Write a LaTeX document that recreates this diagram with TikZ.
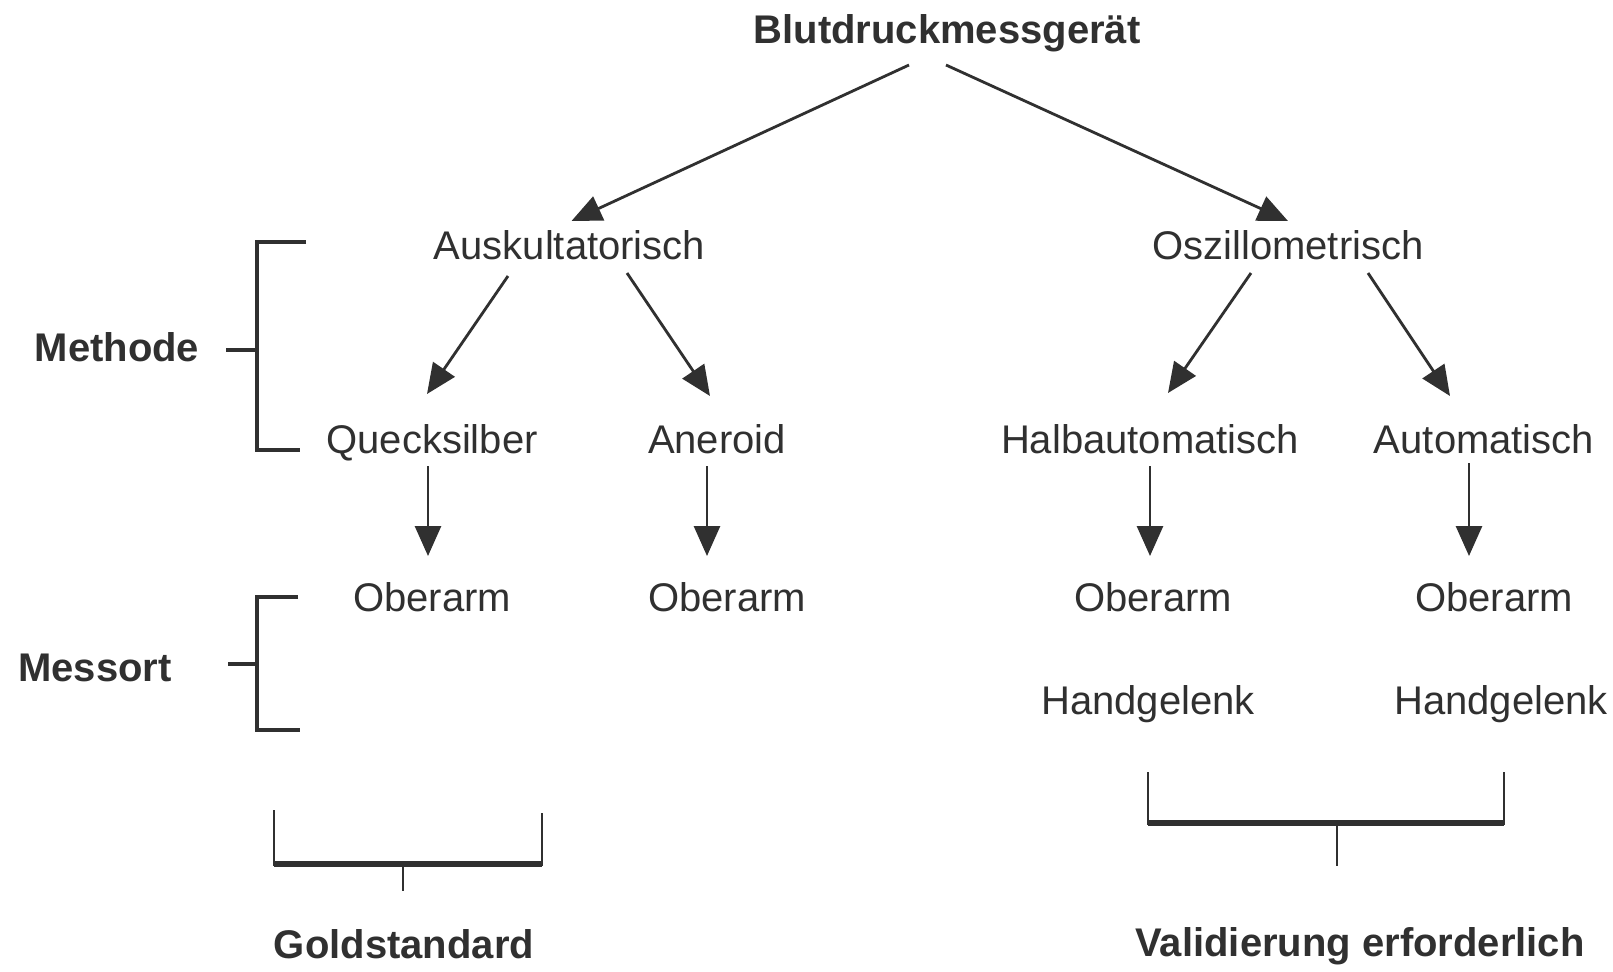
\documentclass[tikz,border=0pt]{standalone}
\usepackage{fontspec}
\setmainfont{Liberation Sans}
\usetikzlibrary{arrows.meta,calc}
\definecolor{ink}{HTML}{303030}
\tikzset{
  lbl/.style={anchor=base, inner sep=0pt, text=ink, font=\fontsize{20}{24}\selectfont},
  blbl/.style={lbl, font=\fontsize{20}{24}\selectfont\bfseries},
  arr/.style={draw=ink, line width=1.4pt, -{Triangle[length=15pt,width=13pt]}},
  brk/.style={draw=ink, line width=2.2pt},
  thinbrk/.style={draw=ink, line width=1.3pt},
  thickbrk/.style={draw=ink, line width=2.8pt}
}
\begin{document}
\begin{tikzpicture}[x=0.5pt,y=-0.5pt]
\useasboundingbox[fill=white] (0,0) rectangle (1613,971);
% nodes
\node[blbl] (title) at (947,43) {Blutdruckmessgerät};
\node[lbl] (ausk) at (569.5,259) {Auskultatorisch};
\node[lbl] (osz) at (1288,259) {Oszillometrisch};
\node[lbl] (queck) at (432,453) {Quecksilber};
\node[lbl] (aner) at (717,453) {Aneroid};
\node[lbl] (halb) at (1150,453) {Halbautomatisch};
\node[lbl] (auto) at (1484,453) {Automatisch};
\node[lbl] (ob1) at (432,611) {Oberarm};
\node[lbl] (ob2) at (727,611) {Oberarm};
\node[lbl] (ob3) at (1153,611) {Oberarm};
\node[lbl] (ob4) at (1494,611) {Oberarm};
\node[lbl] (hg1) at (1148,714) {Handgelenk};
\node[lbl] (hg2) at (1501,714) {Handgelenk};
\node[blbl] (meth) at (117,361) {Methode};
\node[blbl] (mess) at (95,681) {Messort};
\node[blbl] (gold) at (404,958) {Goldstandard};
\node[blbl] (vali) at (1360,956) {Validierung erforderlich};
% arrows
\draw[arr] ($(title.base)+(-38,22)$) -- ($(ausk.base)+(2,-38)$);
\draw[arr] ($(title.base)+(-1,22)$) -- ($(osz.base)+(0,-38)$);
\draw[arr] ($(ausk.base)+(-61.5,17)$) -- ($(queck.base)+(-5,-59)$);
\draw[arr] ($(ausk.base)+(57.5,14)$) -- ($(aner.base)+(-7,-57)$);
\draw[arr] ($(osz.base)+(-37,14)$) -- ($(halb.base)+(18,-60)$);
\draw[arr] ($(osz.base)+(80,14)$) -- ($(auto.base)+(-34,-57)$);
\draw[arr] ($(queck.base)+(-4,13)$) -- ($(ob1.base)+(-4,-55)$);
\draw[arr] ($(aner.base)+(-10,13)$) -- ($(ob2.base)+(-20,-55)$);
\draw[arr] ($(halb.base)+(0,13)$) -- ($(ob3.base)+(-3,-55)$);
\draw[arr] ($(auto.base)+(-15,10)$) -- ($(ob4.base)+(-25,-55)$);
% Methode bracket
\draw[brk] (306,242) -- (257,242) -- (257,450) -- (300,450);
\coordinate (mb) at (257,350);
\draw[brk] (mb) -- ++(-31,0);
% Messort bracket
\draw[brk] (298,597) -- (257,597) -- (257,730) -- (300,730);
\coordinate (ms) at (257,664);
\draw[brk] (ms) -- ++(-29,0);
% Goldstandard bracket
\draw[thinbrk] (274,810) -- (274,866);
\draw[thinbrk] (542,813) -- (542,866);
\draw[thickbrk] (274,864) -- (542,864);
\coordinate (gb) at (403,864);
\draw[thinbrk] (gb) -- (403,891);
% Validierung bracket
\draw[thinbrk] (1148,772) -- (1148,825);
\draw[thinbrk] (1504,772) -- (1504,825);
\draw[thickbrk] (1148,823) -- (1504,823);
\coordinate (vb) at (1337,823);
\draw[thinbrk] (vb) -- (1337,866);
\end{tikzpicture}
\end{document}
